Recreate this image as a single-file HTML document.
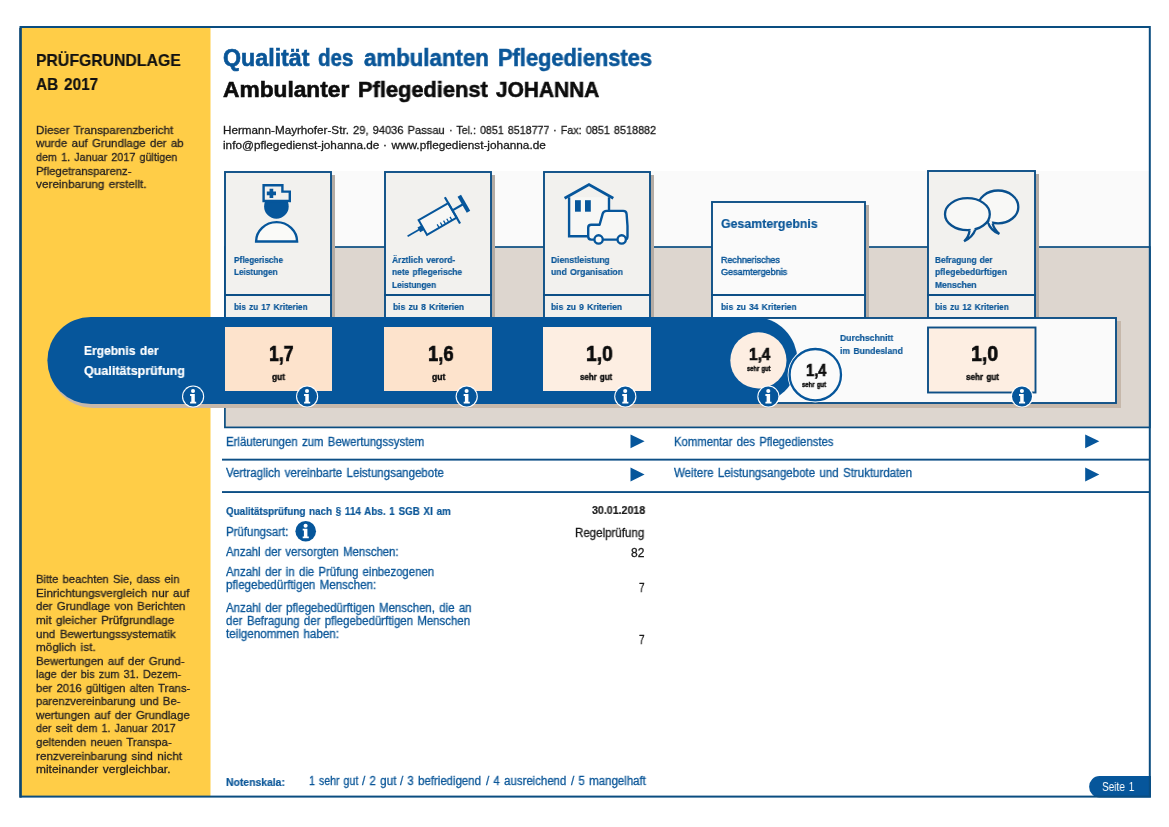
<!DOCTYPE html>
<html lang="de"><head><meta charset="utf-8"><title>Qualität des ambulanten Pflegedienstes</title>
<style>
html,body{margin:0;padding:0;background:#fff;}
body{width:1169px;height:827px;position:relative;overflow:hidden;font-family:"Liberation Sans",sans-serif;}
#g{position:absolute;left:0;top:0;}
.t{will-change:transform;word-spacing:.1em;position:absolute;white-space:nowrap;line-height:1;transform-origin:0 0;margin:0;padding:0;}
.b{font-weight:bold;}
</style></head><body>
<svg id="g" width="1169" height="827" viewBox="0 0 1169 827"><rect x="20.5" y="27" width="190" height="770" fill="#ffcd47"/><rect x="224" y="171" width="926" height="77" fill="#fafafa"/><rect x="224.9" y="247" width="925" height="180.4" fill="#ddd6cf" stroke="#0a4d80" stroke-width="1.7"/><rect x="222" y="458.7" width="928" height="1.9" fill="#0d4f86"/><rect x="222" y="491.1" width="928" height="1.9" fill="#0d4f86"/><rect x="227" y="175" width="108" height="143" fill="#b4aba3"/><rect x="225" y="172" width="106" height="146" fill="#f2f1ee" stroke="#0d4f86" stroke-width="1.9"/><line x1="224" x2="332" y1="295" y2="295" stroke="#0d4f86" stroke-width="1.8"/><rect x="387" y="175" width="108" height="143" fill="#b4aba3"/><rect x="385" y="172" width="106" height="146" fill="#f2f1ee" stroke="#0d4f86" stroke-width="1.9"/><line x1="384" x2="492" y1="295" y2="295" stroke="#0d4f86" stroke-width="1.8"/><rect x="546" y="175" width="108" height="143" fill="#b4aba3"/><rect x="544" y="172" width="106" height="146" fill="#f2f1ee" stroke="#0d4f86" stroke-width="1.9"/><line x1="543" x2="651" y1="295" y2="295" stroke="#0d4f86" stroke-width="1.8"/><rect x="714" y="205" width="155" height="113" fill="#b4aba3"/><rect x="712" y="202" width="153" height="116" fill="#fafafa" stroke="#0d4f86" stroke-width="1.9"/><line x1="711" x2="866" y1="295" y2="295" stroke="#0d4f86" stroke-width="1.8"/><rect x="930" y="174" width="109" height="144" fill="#b4aba3"/><rect x="928" y="171" width="107" height="147" fill="#f2f1ee" stroke="#0d4f86" stroke-width="1.9"/><line x1="927" x2="1036" y1="295" y2="295" stroke="#0d4f86" stroke-width="1.8"/><path d="M93 321H1121V408H93A43.5 43.5 0 0 1 93 321Z" fill="#c6b8ab"/><rect x="700" y="318" width="416" height="85" fill="#fafafa" stroke="#0d4f86" stroke-width="1.9"/><rect x="47.4" y="317" width="750" height="87" rx="43.5" fill="#06569b"/><rect x="225" y="327" width="107" height="64" fill="#fde3cc"/><rect x="384" y="327" width="108" height="64" fill="#fde3cc"/><rect x="543" y="327" width="108" height="64" fill="#fdeee2"/><rect x="928" y="327.5" width="107.5" height="65" fill="#fdeee2" stroke="#0d4f86" stroke-width="1.9"/><circle cx="758.4" cy="360.4" r="28.1" fill="#fdeee2"/><circle cx="815.3" cy="374.7" r="27.7" fill="#fff"/><circle cx="815.3" cy="374.7" r="25.7" fill="#fafafa" stroke="#06569b" stroke-width="2.3"/><g transform="translate(193.1,396.5)"><circle r="11.1" fill="#fff"/><circle r="10" fill="#06569b"/><circle cx="-0.1" cy="-5.5" r="2.05" fill="#fff"/><path d="M-3 -2.4H1.7V5.3H3.1V7.1H-3V5.3H-1.8V-0.6H-3Z" fill="#fff"/></g><g transform="translate(307.1,396.5)"><circle r="11.1" fill="#fff"/><circle r="10" fill="#06569b"/><circle cx="-0.1" cy="-5.5" r="2.05" fill="#fff"/><path d="M-3 -2.4H1.7V5.3H3.1V7.1H-3V5.3H-1.8V-0.6H-3Z" fill="#fff"/></g><g transform="translate(466.7,396.5)"><circle r="11.1" fill="#fff"/><circle r="10" fill="#06569b"/><circle cx="-0.1" cy="-5.5" r="2.05" fill="#fff"/><path d="M-3 -2.4H1.7V5.3H3.1V7.1H-3V5.3H-1.8V-0.6H-3Z" fill="#fff"/></g><g transform="translate(625.3,396.5)"><circle r="11.1" fill="#fff"/><circle r="10" fill="#06569b"/><circle cx="-0.1" cy="-5.5" r="2.05" fill="#fff"/><path d="M-3 -2.4H1.7V5.3H3.1V7.1H-3V5.3H-1.8V-0.6H-3Z" fill="#fff"/></g><g transform="translate(768.4,396.5)"><circle r="11.1" fill="#fff"/><circle r="10" fill="#06569b"/><circle cx="-0.1" cy="-5.5" r="2.05" fill="#fff"/><path d="M-3 -2.4H1.7V5.3H3.1V7.1H-3V5.3H-1.8V-0.6H-3Z" fill="#fff"/></g><g transform="translate(1022,396.5)"><circle r="11.1" fill="#fff"/><circle r="10" fill="#06569b"/><circle cx="-0.1" cy="-5.5" r="2.05" fill="#fff"/><path d="M-3 -2.4H1.7V5.3H3.1V7.1H-3V5.3H-1.8V-0.6H-3Z" fill="#fff"/></g><g transform="translate(305.7,531.2)"><circle r="10.3" fill="#06569b"/><circle cx="-0.1" cy="-5.5" r="2.05" fill="#fff"/><path d="M-3 -2.4H1.7V5.3H3.1V7.1H-3V5.3H-1.8V-0.6H-3Z" fill="#fff"/></g><path d="M630.5 434.40000000000003V448.2L644.6 441.3Z" fill="#06569b"/><path d="M630.5 467.6V481.4L644.6 474.5Z" fill="#06569b"/><path d="M1085.2 434.40000000000003V448.2L1099.3 441.3Z" fill="#06569b"/><path d="M1085.2 467.6V481.4L1099.3 474.5Z" fill="#06569b"/><g><circle cx="276.4" cy="206.4" r="12.3" fill="#06569b"/><path d="M263.6 185.2H282.4V191.6H289.8V201H263.6Z" fill="#f2f1ee" stroke="#06569b" stroke-width="2.4" stroke-linejoin="miter"/><path d="M271.4 188.8V198M266.8 193.4H276" stroke="#06569b" stroke-width="3.7" fill="none"/><path d="M256.1 241.5A20.5 19.4 0 0 1 297.1 241.5Z" fill="#fafaf8" stroke="#06569b" stroke-width="2.4" stroke-linejoin="miter"/></g><g transform="translate(407.6,236.3) rotate(-30)" stroke="#06569b" fill="none" stroke-linecap="butt"><line x1="0" y1="0" x2="14" y2="0" stroke-width="1.6"/><rect x="13" y="-2.7" width="4.5" height="5.4" fill="#06569b" stroke="none"/><rect x="17.6" y="-8.4" width="34.2" height="16.8" fill="#f7f7f5" stroke-width="2"/><line x1="51.8" y1="-15.2" x2="51.8" y2="15.2" stroke-width="2.2"/><line x1="51.8" y1="0" x2="64" y2="0" stroke-width="2.2"/><line x1="65" y1="-9.2" x2="65" y2="9.2" stroke-width="4"/><line x1="31.6" y1="8.4" x2="31.6" y2="4.4" stroke-width="1.3"/><line x1="35.3" y1="8.4" x2="35.3" y2="4.4" stroke-width="1.3"/><line x1="39" y1="8.4" x2="39" y2="4.4" stroke-width="1.3"/><line x1="42.7" y1="8.4" x2="42.7" y2="4.4" stroke-width="1.3"/><line x1="46.4" y1="8.4" x2="46.4" y2="4.4" stroke-width="1.3"/></g><g stroke="#06569b" stroke-width="2.4" fill="none" stroke-linejoin="miter"><path d="M569.1 197.3V236.2H609V197.3" fill="#f7f7f5"/><path d="M564.6 198.2L589 184.5L613.3 198.2" stroke-width="2.8" stroke-linejoin="miter"/><rect x="575" y="200.2" width="5.8" height="11.5" fill="#06569b" stroke="none"/><rect x="585" y="200.2" width="5.8" height="11.5" fill="#06569b" stroke="none"/><path d="M591.2 239.6H624.6Q627.5 239.6 627.5 236.6V226L626.6 214Q626.3 210.9 623.2 210.9H606.6Q603.6 210.9 602.7 213.6L599.6 224.8H591.2Q588.2 224.8 588.2 227.8V236.6Q588.2 239.6 591.2 239.6Z" fill="#f7f7f5" stroke-linejoin="round"/><circle cx="598.6" cy="239.4" r="4.15" fill="#fafaf8" stroke-width="2.3"/><circle cx="621.7" cy="239.4" r="4.15" fill="#fafaf8" stroke-width="2.3"/></g><g stroke="#09508e" stroke-width="2.3" fill="#f8f8f6" stroke-linejoin="miter"><ellipse cx="998.1" cy="206.9" rx="20.2" ry="16.4"/><path d="M987.8 221.8Q990.5 230.5 999.3 233.9Q994 229.5 992.6 223.6" /><ellipse cx="967.4" cy="214.2" rx="22.4" ry="16"/><path d="M969.6 230.3Q969 236.5 964.2 241.2Q972.5 237.5 975.6 229.2" /><path d="M970.6 229.2L974.4 228.2" stroke="#f8f8f6" stroke-width="2.6"/><path d="M989.3 221.6L992 222.6" stroke="#f8f8f6" stroke-width="2.6"/></g><path d="M1099.5 776H1151V797.5H1099.5A10.4 10.75 0 0 1 1099.5 776Z" fill="#06569b"/><rect x="20.5" y="27" width="1129.3" height="769.6" fill="none" stroke="#0a4d80" stroke-width="2"/><rect x="19.3" y="27.9" width="2.4" height="769.7" fill="#0c4672"/></svg>
<div class="t b" style="left:35.90px;top:52.00px;font-size:17px;color:#111;-webkit-text-stroke:0.2px;transform:scaleX(0.9291);">PRÜFGRUNDLAGE</div>
<div class="t b" style="left:35.90px;top:76.00px;font-size:17px;color:#111;-webkit-text-stroke:0.2px;transform:scaleX(0.9041);">AB 2017</div>
<div class="t" style="left:35.70px;top:125.00px;font-size:11.8px;color:#231f20;-webkit-text-stroke:0.3px;transform:scaleX(0.9826);">Dieser Transparenzbericht</div>
<div class="t" style="left:35.70px;top:138.00px;font-size:11.8px;color:#231f20;-webkit-text-stroke:0.3px;transform:scaleX(0.9741);">wurde auf Grundlage der ab</div>
<div class="t" style="left:35.70px;top:152.00px;font-size:11.8px;color:#231f20;-webkit-text-stroke:0.3px;transform:scaleX(0.9160);">dem 1. Januar 2017 gültigen</div>
<div class="t" style="left:35.70px;top:166.00px;font-size:11.8px;color:#231f20;-webkit-text-stroke:0.3px;transform:scaleX(0.9580);">Pflegetransparenz-</div>
<div class="t" style="left:35.70px;top:179.00px;font-size:11.8px;color:#231f20;-webkit-text-stroke:0.3px;transform:scaleX(0.9932);">vereinbarung erstellt.</div>
<div class="t" style="left:35.70px;top:574.00px;font-size:11.8px;color:#231f20;-webkit-text-stroke:0.3px;transform:scaleX(0.9499);">Bitte beachten Sie, dass ein</div>
<div class="t" style="left:35.70px;top:588.00px;font-size:11.8px;color:#231f20;-webkit-text-stroke:0.3px;transform:scaleX(0.9922);">Einrichtungsvergleich nur auf</div>
<div class="t" style="left:35.70px;top:601.00px;font-size:11.8px;color:#231f20;-webkit-text-stroke:0.3px;transform:scaleX(0.9678);">der Grundlage von Berichten</div>
<div class="t" style="left:35.70px;top:615.00px;font-size:11.8px;color:#231f20;-webkit-text-stroke:0.3px;transform:scaleX(0.9873);">mit gleicher Prüfgrundlage</div>
<div class="t" style="left:35.70px;top:629.00px;font-size:11.8px;color:#231f20;-webkit-text-stroke:0.3px;transform:scaleX(0.9820);">und Bewertungssystematik</div>
<div class="t" style="left:35.70px;top:642.00px;font-size:11.8px;color:#231f20;-webkit-text-stroke:0.3px;transform:scaleX(0.9902);">möglich ist.</div>
<div class="t" style="left:35.70px;top:656.00px;font-size:11.8px;color:#231f20;-webkit-text-stroke:0.3px;transform:scaleX(0.9702);">Bewertungen auf der Grund-</div>
<div class="t" style="left:35.70px;top:669.00px;font-size:11.8px;color:#231f20;-webkit-text-stroke:0.3px;transform:scaleX(0.9260);">lage der bis zum 31. Dezem-</div>
<div class="t" style="left:35.70px;top:683.00px;font-size:11.8px;color:#231f20;-webkit-text-stroke:0.3px;transform:scaleX(0.9556);">ber 2016 gültigen alten Trans-</div>
<div class="t" style="left:35.70px;top:696.00px;font-size:11.8px;color:#231f20;-webkit-text-stroke:0.3px;transform:scaleX(0.9500);">parenzvereinbarung und Be-</div>
<div class="t" style="left:35.70px;top:710.00px;font-size:11.8px;color:#231f20;-webkit-text-stroke:0.3px;transform:scaleX(0.9789);">wertungen auf der Grundlage</div>
<div class="t" style="left:35.70px;top:723.00px;font-size:11.8px;color:#231f20;-webkit-text-stroke:0.3px;transform:scaleX(0.9136);">der seit dem 1. Januar 2017</div>
<div class="t" style="left:35.70px;top:737.00px;font-size:11.8px;color:#231f20;-webkit-text-stroke:0.3px;transform:scaleX(0.9685);">geltenden neuen Transpa-</div>
<div class="t" style="left:35.70px;top:751.00px;font-size:11.8px;color:#231f20;-webkit-text-stroke:0.3px;transform:scaleX(0.9912);">renzvereinbarung sind nicht</div>
<div class="t" style="left:35.70px;top:764.00px;font-size:11.8px;color:#231f20;-webkit-text-stroke:0.3px;transform:scaleX(1.0113);">miteinander vergleichbar.</div>
<div class="t b" style="left:222.50px;top:47.00px;font-size:23px;color:#0a5698;-webkit-text-stroke:0.6px;transform:scaleX(1.0102);">Qualität</div>
<div class="t b" style="left:318.30px;top:47.00px;font-size:23px;color:#0a5698;-webkit-text-stroke:0.6px;transform:scaleX(0.8930);">des</div>
<div class="t b" style="left:363.50px;top:47.00px;font-size:23px;color:#0a5698;-webkit-text-stroke:0.6px;transform:scaleX(0.9676);">ambulanten</div>
<div class="t b" style="left:497.90px;top:47.00px;font-size:23px;color:#0a5698;-webkit-text-stroke:0.6px;transform:scaleX(0.9486);">Pflegedienstes</div>
<div class="t b" style="left:222.50px;top:79.00px;font-size:22.5px;color:#0c0c0c;-webkit-text-stroke:0.6px;transform:scaleX(1.0103);">Ambulanter</div>
<div class="t b" style="left:358.20px;top:79.00px;font-size:22.5px;color:#0c0c0c;-webkit-text-stroke:0.6px;transform:scaleX(0.9702);">Pflegedienst</div>
<div class="t b" style="left:495.90px;top:79.00px;font-size:22.5px;color:#0c0c0c;-webkit-text-stroke:0.6px;transform:scaleX(0.9284);">JOHANNA</div>
<div class="t" style="left:222.60px;top:124.00px;font-size:11.6px;color:#1a1a1a;-webkit-text-stroke:0.3px;transform:scaleX(1.0072);">Hermann-Mayrhofer-Str.</div>
<div class="t" style="left:353.10px;top:124.00px;font-size:11.6px;color:#1a1a1a;-webkit-text-stroke:0.3px;transform:scaleX(0.9572);">29, 94036 Passau</div>
<div class="t" style="left:449.30px;top:124.00px;font-size:11.6px;color:#1a1a1a;-webkit-text-stroke:0.3px;transform:scaleX(0.9212);">· Tel.: 0851 8518777</div>
<div class="t" style="left:553.30px;top:124.00px;font-size:11.6px;color:#1a1a1a;-webkit-text-stroke:0.3px;transform:scaleX(0.9332);">· Fax: 0851 8518882</div>
<div class="t" style="left:222.60px;top:139.00px;font-size:11.6px;color:#1a1a1a;-webkit-text-stroke:0.3px;transform:scaleX(1.0140);">info@pflegedienst-johanna.de</div>
<div class="t" style="left:383.30px;top:139.00px;font-size:11.6px;color:#1a1a1a;-webkit-text-stroke:0.3px;transform:scaleX(1.0199);">· www.pflegedienst-johanna.de</div>
<div class="t b" style="left:234.10px;top:255.00px;font-size:9.4px;color:#0a5698;-webkit-text-stroke:0.2px;transform:scaleX(0.8805);">Pflegerische</div>
<div class="t b" style="left:234.10px;top:267.00px;font-size:9.4px;color:#0a5698;-webkit-text-stroke:0.2px;transform:scaleX(0.8717);">Leistungen</div>
<div class="t b" style="left:392.20px;top:255.00px;font-size:9.4px;color:#0a5698;-webkit-text-stroke:0.2px;transform:scaleX(0.9013);">Ärztlich verord-</div>
<div class="t b" style="left:392.20px;top:267.00px;font-size:9.4px;color:#0a5698;-webkit-text-stroke:0.2px;transform:scaleX(0.8993);">nete pflegerische</div>
<div class="t b" style="left:392.20px;top:280.00px;font-size:9.4px;color:#0a5698;-webkit-text-stroke:0.2px;transform:scaleX(0.8837);">Leistungen</div>
<div class="t b" style="left:550.90px;top:255.00px;font-size:9.4px;color:#0a5698;-webkit-text-stroke:0.2px;transform:scaleX(0.9088);">Dienstleistung</div>
<div class="t b" style="left:550.90px;top:267.00px;font-size:9.4px;color:#0a5698;-webkit-text-stroke:0.2px;transform:scaleX(0.9167);">und Organisation</div>
<div class="t b" style="left:721.30px;top:217.00px;font-size:13.2px;color:#0a5698;-webkit-text-stroke:0.2px;transform:scaleX(0.9357);">Gesamtergebnis</div>
<div class="t" style="left:721.30px;top:255.00px;font-size:9.4px;color:#0a5698;-webkit-text-stroke:0.45px;transform:scaleX(0.9498);">Rechnerisches</div>
<div class="t" style="left:721.30px;top:267.00px;font-size:9.4px;color:#0a5698;-webkit-text-stroke:0.45px;transform:scaleX(0.9623);">Gesamtergebnis</div>
<div class="t b" style="left:935.40px;top:255.00px;font-size:9.4px;color:#0a5698;-webkit-text-stroke:0.2px;transform:scaleX(0.8844);">Befragung der</div>
<div class="t b" style="left:935.40px;top:267.00px;font-size:9.4px;color:#0a5698;-webkit-text-stroke:0.2px;transform:scaleX(0.9094);">pflegebedürftigen</div>
<div class="t b" style="left:935.40px;top:280.00px;font-size:9.4px;color:#0a5698;-webkit-text-stroke:0.2px;transform:scaleX(0.9071);">Menschen</div>
<div class="t b" style="left:233.70px;top:302.00px;font-size:9.6px;color:#0a5698;-webkit-text-stroke:0.2px;transform:scaleX(0.8605);">bis zu 17 Kriterien</div>
<div class="t b" style="left:392.60px;top:302.00px;font-size:9.6px;color:#0a5698;-webkit-text-stroke:0.2px;transform:scaleX(0.8867);">bis zu 8 Kriterien</div>
<div class="t b" style="left:550.90px;top:302.00px;font-size:9.6px;color:#0a5698;-webkit-text-stroke:0.2px;transform:scaleX(0.8867);">bis zu 9 Kriterien</div>
<div class="t b" style="left:721.30px;top:302.00px;font-size:9.6px;color:#0a5698;-webkit-text-stroke:0.2px;transform:scaleX(0.8839);">bis zu 34 Kriterien</div>
<div class="t b" style="left:935.00px;top:302.00px;font-size:9.6px;color:#0a5698;-webkit-text-stroke:0.2px;transform:scaleX(0.8628);">bis zu 12 Kriterien</div>
<div class="t b" style="left:83.60px;top:344.00px;font-size:13px;color:#fff;-webkit-text-stroke:0.2px;transform:scaleX(0.9235);">Ergebnis der</div>
<div class="t b" style="left:83.60px;top:364.00px;font-size:13px;color:#fff;-webkit-text-stroke:0.2px;transform:scaleX(0.9645);">Qualitätsprüfung</div>
<div class="t b" style="left:268.80px;top:343.00px;font-size:22px;color:#0c0c0c;-webkit-text-stroke:0.7px;transform:scaleX(0.8041);">1,7</div>
<div class="t b" style="left:271.70px;top:373.00px;font-size:8.6px;color:#0c0c0c;-webkit-text-stroke:0.4px;transform:scaleX(0.9645);">gut</div>
<div class="t b" style="left:427.70px;top:343.00px;font-size:22px;color:#0c0c0c;-webkit-text-stroke:0.7px;transform:scaleX(0.8400);">1,6</div>
<div class="t b" style="left:431.60px;top:373.00px;font-size:8.6px;color:#0c0c0c;-webkit-text-stroke:0.4px;transform:scaleX(0.9944);">gut</div>
<div class="t b" style="left:585.60px;top:343.00px;font-size:22px;color:#0c0c0c;-webkit-text-stroke:0.7px;transform:scaleX(0.8793);">1,0</div>
<div class="t b" style="left:580.40px;top:373.00px;font-size:8.6px;color:#0c0c0c;-webkit-text-stroke:0.4px;transform:scaleX(0.9233);">sehr gut</div>
<div class="t b" style="left:749.00px;top:347.00px;font-size:16px;color:#0c0c0c;-webkit-text-stroke:0.6px;transform:scaleX(0.9618);">1,4</div>
<div class="t b" style="left:747.00px;top:366.00px;font-size:6.8px;color:#0c0c0c;-webkit-text-stroke:0.4px;transform:scaleX(0.8509);">sehr gut</div>
<div class="t b" style="left:805.50px;top:363.00px;font-size:16px;color:#0c0c0c;-webkit-text-stroke:0.6px;transform:scaleX(0.9213);">1,4</div>
<div class="t b" style="left:802.40px;top:382.00px;font-size:6.8px;color:#0c0c0c;-webkit-text-stroke:0.4px;transform:scaleX(0.8727);">sehr gut</div>
<div class="t b" style="left:971.30px;top:343.00px;font-size:22px;color:#0c0c0c;-webkit-text-stroke:0.7px;transform:scaleX(0.8891);">1,0</div>
<div class="t b" style="left:965.60px;top:373.00px;font-size:8.6px;color:#0c0c0c;-webkit-text-stroke:0.4px;transform:scaleX(0.9463);">sehr gut</div>
<div class="t b" style="left:840.20px;top:333.00px;font-size:9.4px;color:#0a5698;-webkit-text-stroke:0.2px;transform:scaleX(0.9200);">Durchschnitt</div>
<div class="t b" style="left:840.20px;top:346.00px;font-size:9.4px;color:#0a5698;-webkit-text-stroke:0.2px;transform:scaleX(0.9216);">im Bundesland</div>
<div class="t" style="left:226.20px;top:436.00px;font-size:12px;color:#0a5698;-webkit-text-stroke:0.3px;transform:scaleX(0.9506);">Erläuterungen zum Bewertungssystem</div>
<div class="t" style="left:226.20px;top:467.00px;font-size:12px;color:#0a5698;-webkit-text-stroke:0.3px;transform:scaleX(0.9585);">Vertraglich vereinbarte Leistungsangebote</div>
<div class="t" style="left:673.90px;top:436.00px;font-size:12px;color:#0a5698;-webkit-text-stroke:0.3px;transform:scaleX(0.9422);">Kommentar des Pflegedienstes</div>
<div class="t" style="left:673.90px;top:467.00px;font-size:12px;color:#0a5698;-webkit-text-stroke:0.3px;transform:scaleX(0.9592);">Weitere Leistungsangebote und Strukturdaten</div>
<div class="t b" style="left:226.20px;top:506.00px;font-size:11px;color:#0a5698;-webkit-text-stroke:0.2px;transform:scaleX(0.8953);">Qualitätsprüfung nach § 114 Abs. 1 SGB XI am</div>
<div class="t" style="left:226.20px;top:526.00px;font-size:12px;color:#0a5698;-webkit-text-stroke:0.3px;transform:scaleX(0.9545);">Prüfungsart:</div>
<div class="t" style="left:226.20px;top:546.00px;font-size:12px;color:#0a5698;-webkit-text-stroke:0.3px;transform:scaleX(0.9424);">Anzahl der versorgten Menschen:</div>
<div class="t" style="left:226.20px;top:566.00px;font-size:12px;color:#0a5698;-webkit-text-stroke:0.3px;transform:scaleX(0.9481);">Anzahl der in die Prüfung einbezogenen</div>
<div class="t" style="left:226.20px;top:579.00px;font-size:12px;color:#0a5698;-webkit-text-stroke:0.3px;transform:scaleX(0.9629);">pflegebedürftigen Menschen:</div>
<div class="t" style="left:226.20px;top:602.00px;font-size:12px;color:#0a5698;-webkit-text-stroke:0.3px;transform:scaleX(0.9537);">Anzahl der pflegebedürftigen Menschen, die an</div>
<div class="t" style="left:226.20px;top:615.00px;font-size:12px;color:#0a5698;-webkit-text-stroke:0.3px;transform:scaleX(0.9520);">der Befragung der pflegebedürftigen Menschen</div>
<div class="t" style="left:226.20px;top:628.00px;font-size:12px;color:#0a5698;-webkit-text-stroke:0.3px;transform:scaleX(0.9689);">teilgenommen haben:</div>
<div class="t b" style="left:591.80px;top:505.00px;font-size:11px;color:#1a1a1a;-webkit-text-stroke:0.2px;transform:scaleX(0.9662);">30.01.2018</div>
<div class="t" style="left:575.40px;top:527.00px;font-size:12px;color:#1a1a1a;-webkit-text-stroke:0.3px;transform:scaleX(0.9603);">Regelprüfung</div>
<div class="t" style="left:630.90px;top:547.00px;font-size:12px;color:#1a1a1a;-webkit-text-stroke:0.3px;transform:scaleX(0.9956);">82</div>
<div class="t" style="left:638.70px;top:582.00px;font-size:12px;color:#1a1a1a;-webkit-text-stroke:0.3px;transform:scaleX(0.8224);">7</div>
<div class="t" style="left:638.70px;top:634.00px;font-size:12px;color:#1a1a1a;-webkit-text-stroke:0.3px;transform:scaleX(0.8224);">7</div>
<div class="t b" style="left:226.40px;top:777.00px;font-size:11px;color:#0a5698;-webkit-text-stroke:0.2px;transform:scaleX(0.9445);">Notenskala:</div>
<div class="t" style="left:308.50px;top:775.00px;font-size:12px;color:#0a5698;-webkit-text-stroke:0.3px;transform:scaleX(0.8838);">1 sehr gut</div>
<div class="t" style="left:361.50px;top:775.00px;font-size:12px;color:#0a5698;-webkit-text-stroke:0.3px;transform:scaleX(0.9590);">/ 2 gut</div>
<div class="t" style="left:399.70px;top:775.00px;font-size:12px;color:#0a5698;-webkit-text-stroke:0.3px;transform:scaleX(0.9502);">/ 3 befriedigend</div>
<div class="t" style="left:486.00px;top:775.00px;font-size:12px;color:#0a5698;-webkit-text-stroke:0.3px;transform:scaleX(0.9506);">/ 4 ausreichend</div>
<div class="t" style="left:571.00px;top:775.00px;font-size:12px;color:#0a5698;-webkit-text-stroke:0.3px;transform:scaleX(0.9547);">/ 5 mangelhaft</div>
<div class="t" style="left:1101.80px;top:781.00px;font-size:12px;color:#fff;transform:scaleX(0.8350);">Seite 1</div>
</body></html>
